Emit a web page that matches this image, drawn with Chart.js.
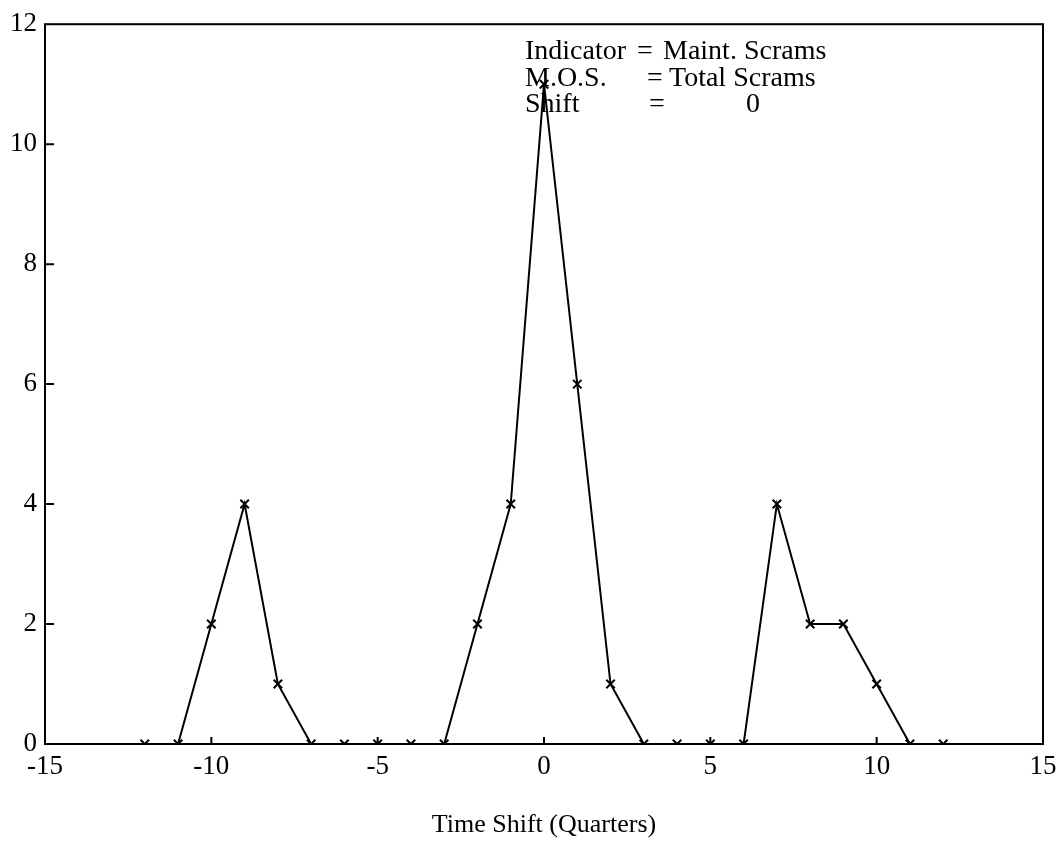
<!DOCTYPE html>
<html>
<head>
<meta charset="utf-8">
<script src="https://cdn.jsdelivr.net/npm/chart.js@4/dist/chart.umd.min.js"></script>
<style>
  html, body { margin: 0; padding: 0; background: #fff; }
  canvas { display: block; }
</style>
</head>
<body>
<canvas id="scrams" width="1064" height="845"></canvas>
<script>
// quarter shifts and the correlation counts at each shift
const shifts = [-12, -11, -10, -9, -8, -7, -6, -5, -4, -3, -2, -1, 0, 1, 2, 3, 4, 5, 6, 7, 8, 9, 10, 11, 12]
const counts = [0, 0, 2, 4, 1, 0, 0, 0, 0, 0, 2, 4, 11, 6, 1, 0, 0, 0, 0, 4, 2, 2, 1, 0, 0]

const xTicks = [-15, -10, -5, 0, 5, 10, 15]
const yTicks = [0, 2, 4, 6, 8, 10, 12]

const notes = [
    [['Indicator', 525], ['=', 637], ['Maint. Scrams', 663]],
    [['M.O.S.', 525], ['=', 647], ['Total Scrams', 669]],
    [['Shift', 525], ['=', 649], ['0', 746]]
]
const noteBaselines = [59, 86, 112]

const serif = 'Liberation Serif, Times New Roman, serif'

// box around the plot, inward ticks, and the legend text block
const frame = {
    id: 'frame',
    afterDraw(chart) {
        const {ctx, chartArea: a, scales: {x, y}} = chart
        ctx.save()
        ctx.strokeStyle = '#000'
        ctx.lineWidth = 2
        ctx.strokeRect(a.left, a.top, a.right - a.left, a.bottom - a.top)
        ctx.beginPath()
        xTicks.slice(1, -1).forEach(v => {
            const px = x.getPixelForValue(v)
            ctx.moveTo(px, a.bottom)
            ctx.lineTo(px, a.bottom - 7)
        })
        yTicks.slice(1, -1).forEach(v => {
            const py = y.getPixelForValue(v)
            ctx.moveTo(a.left, py)
            ctx.lineTo(a.left + 9, py)
        })
        ctx.stroke()

        ctx.fillStyle = '#000'
        ctx.font = '28px ' + serif
        ctx.textBaseline = 'alphabetic'
        ctx.textAlign = 'left'
        notes.forEach((line, i) => {
            line.forEach(([txt, px]) => ctx.fillText(txt, px, noteBaselines[i]))
        })
        ctx.restore()
    }
}

new Chart(document.getElementById('scrams'), {
    type: 'scatter',
    data: {
        datasets: [{
            data: shifts.map((s, i) => ({x: s, y: counts[i]})),
            showLine: true,
            borderColor: '#000',
            borderWidth: 2,
            tension: 0,
            pointStyle: 'crossRot',
            pointRadius: 6,
            pointBorderWidth: 2,
            pointBorderColor: '#000',
            pointBackgroundColor: '#000'
        }]
    },
    options: {
        responsive: false,
        animation: false,
        devicePixelRatio: 1,
        layout: {padding: {top: 20, right: 21, left: 0, bottom: 0}},
        plugins: {legend: {display: false}, tooltip: {enabled: false}},
        scales: {
            x: {
                type: 'linear',
                min: -15,
                max: 15,
                afterBuildTicks: s => { s.ticks = xTicks.map(v => ({value: v})) },
                afterFit: s => { s.height = 101 },
                grid: {display: false, drawTicks: false},
                border: {display: false},
                ticks: {color: '#000', padding: 7, maxRotation: 0, font: {family: serif, size: 27}},
                title: {
                    display: true,
                    text: 'Time Shift (Quarters)',
                    color: '#000',
                    font: {family: serif, size: 26, lineHeight: 1},
                    padding: {top: 0, bottom: 7}
                }
            },
            y: {
                type: 'linear',
                min: 0,
                max: 12,
                afterBuildTicks: s => { s.ticks = yTicks.map(v => ({value: v})) },
                afterFit: s => { s.width = 45 },
                grid: {display: false, drawTicks: false},
                border: {display: false},
                ticks: {color: '#000', padding: 8, font: {family: serif, size: 27}}
            }
        }
    },
    plugins: [frame]
})
</script>
</body>
</html>
